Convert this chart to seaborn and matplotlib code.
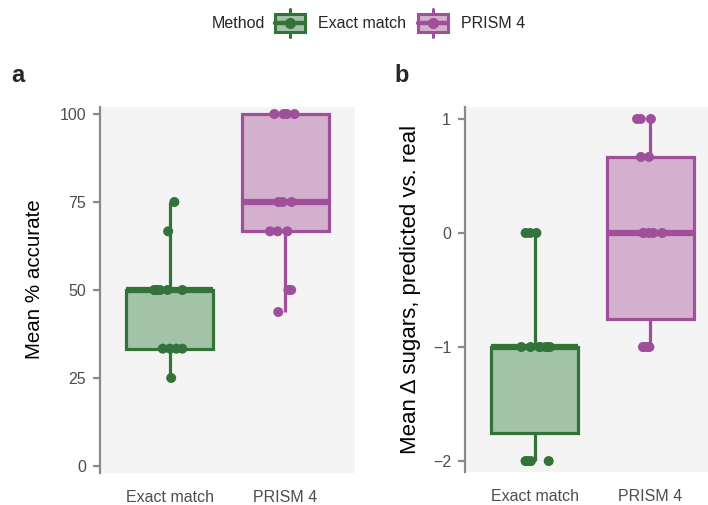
import numpy as np
import pandas as pd
import matplotlib
matplotlib.use("Agg")
import matplotlib.pyplot as plt
import seaborn as sns
from matplotlib.legend_handler import HandlerBase
from matplotlib.patches import Rectangle, Patch
from matplotlib.lines import Line2D

# ---- data ----
methods = ["Exact match", "PRISM 4"]
acc_exact = [25, 33.33, 33.33, 33.33, 33.33, 50, 50, 50, 50, 50, 50, 66.67, 75]
acc_prism = [43.75, 50, 50, 66.67, 66.67, 66.67, 75, 75, 75, 100, 100, 100, 100]
sug_exact = [-2, -2, -2, -2, -1, -1, -1, -1, -1, -1, -1, 0, 0, 0]
sug_prism = [-1, -1, -1, -1, 0, 0, 0, 0, 0, 0.667, 0.667, 1, 1, 1]
acc_ticks = [0, 25, 50, 75, 100]
sug_ticks = [-2, -1, 0, 1]

edge_colors = {"Exact match": "#33733a", "PRISM 4": "#a04f9b"}
fill_colors = {"Exact match": "#a3c3a8", "PRISM 4": "#d4b0cf"}

df_acc = pd.DataFrame({
    "Method": ["Exact match"] * len(acc_exact) + ["PRISM 4"] * len(acc_prism),
    "value": acc_exact + acc_prism,
})
df_sug = pd.DataFrame({
    "Method": ["Exact match"] * len(sug_exact) + ["PRISM 4"] * len(sug_prism),
    "value": sug_exact + sug_prism,
})

sns.set_style("white")
plt.rcParams["font.family"] = ["Liberation Sans", "DejaVu Sans"]

W, H = 708, 505
fig = plt.figure(figsize=(W / 100, H / 100), dpi=100)

def fx(px):
    return px / W

def fy(py):
    return 1 - py / H

ax_a = fig.add_axes([fx(100), fy(473), fx(255), (473 - 107) / H])
ax_b = fig.add_axes([fx(465), fy(472), fx(255), (472 - 107) / H])

np.random.seed(3)

def draw(ax, df, ylim, ticks, ylabel, lsize):
    ax.set_facecolor("#f4f4f4")
    for m in methods:
        sub = df[df["Method"] == m]
        sns.boxplot(data=sub, x="Method", y="value", order=methods, ax=ax,
                    color=fill_colors[m], linecolor=edge_colors[m], saturation=1,
                    width=0.75, showcaps=False, showfliers=False, whis=1.5,
                    boxprops=dict(linewidth=2.3, edgecolor=edge_colors[m]),
                    whiskerprops=dict(linewidth=2.3, color=edge_colors[m]),
                    medianprops=dict(linewidth=4.5, color=edge_colors[m]))
    sns.stripplot(data=df, x="Method", y="value", order=methods, hue="Method",
                  hue_order=methods, palette=edge_colors, jitter=0.14, size=7.2,
                  linewidth=0, ax=ax, legend=False, zorder=5)
    ax.set_xlim(-0.6, 1.6)
    ax.set_ylim(*ylim)
    ax.set_yticks(ticks)
    ax.set_yticklabels([str(t).replace("-", "\u2212") for t in ticks])
    ax.set_xlabel("")
    ax.set_ylabel(ylabel, fontsize=lsize, color="black")
    for s in ["top", "right", "bottom"]:
        ax.spines[s].set_visible(False)
    ax.spines["left"].set_color("#8a8a8a")
    ax.spines["left"].set_linewidth(1.6)
    ax.tick_params(axis="y", length=5, width=1.6, color="#8a8a8a",
                   labelcolor="#4d4d4d", labelsize=11.5, pad=5, left=True)
    ax.tick_params(axis="x", length=0, labelcolor="#4d4d4d", labelsize=11.5, pad=12)
    ax.grid(False)

draw(ax_a, df_acc, (-2, 102), acc_ticks, "Mean % accurate", 14.8)
draw(ax_b, df_sug, (-2.096, 1.105), sug_ticks, "Mean \u0394 sugars, predicted vs. real", 16)
ax_a.yaxis.set_label_coords((44 - 100) / 255, 0.53)
ax_b.yaxis.set_label_coords((421 - 465) / 255, 0.5)

fig.text(fx(18), fy(75), "a", fontsize=17, fontweight="bold", ha="center", va="center")
fig.text(fx(402), fy(75), "b", fontsize=17, fontweight="bold", ha="center", va="center")


class BoxKey(HandlerBase):
    def create_artists(self, legend, orig_handle, xdescent, ydescent,
                       width, height, fontsize, trans):
        fc = orig_handle.get_facecolor()
        ec = orig_handle.get_edgecolor()
        x0, y0 = -xdescent, -ydescent
        cx, cy = x0 + width / 2, y0 + height / 2
        rect = Rectangle((x0, y0), width, height, facecolor=fc, edgecolor=ec,
                         lw=2.2, transform=trans)
        hl = Line2D([x0, x0 + width], [cy, cy], color=ec, lw=3.2, transform=trans)
        vt = Line2D([cx, cx], [y0 + height, y0 + height + 0.3 * height], color=ec,
                    lw=2.2, transform=trans)
        vb = Line2D([cx, cx], [y0, y0 - 0.3 * height], color=ec, lw=2.2, transform=trans)
        dot = Line2D([cx], [cy], marker="o", ms=7, color=ec, lw=0, transform=trans)
        return [rect, hl, vt, vb, dot]


handles = [Patch(facecolor=fill_colors[m], edgecolor=edge_colors[m]) for m in methods]
leg = fig.legend(handles, methods, loc="center left",
                 bbox_to_anchor=(fx(275), fy(23)), ncol=2, frameon=False,
                 fontsize=11.5, handler_map={Patch: BoxKey()},
                 handlelength=1.85, handleheight=1.3, handletextpad=0.85,
                 columnspacing=0.75, borderpad=0, borderaxespad=0)
fig.text(fx(265), fy(23), "Method", fontsize=11.5, ha="right", va="center")

fig.savefig("out.png", dpi=100)
